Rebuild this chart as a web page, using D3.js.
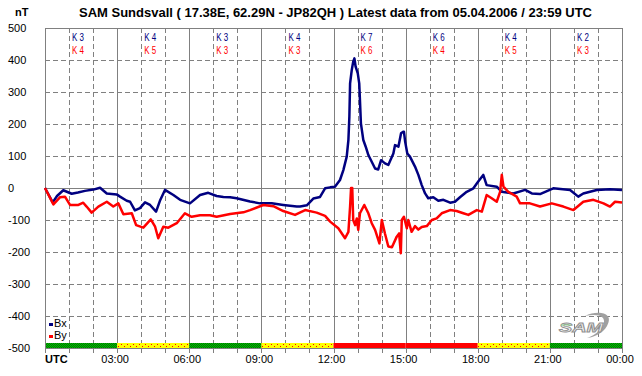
<!DOCTYPE html>
<html lang="en">
  <head>
    <meta charset="UTF-8" />
    <title>SAM Sundsvall</title>
    <script src="https://d3js.org/d3.v7.min.js"></script>
    <style>
      body { margin: 0; background: #fff; }
      svg { display: block; font-family: "Liberation Sans", Arial, sans-serif; }
    </style>
  </head>
  <body>
    <svg id="chart" width="642" height="376"></svg>

    <script>
      // Bx / By magnetometer traces as [hour, nT]
      const bxData = [
        [0, 0], [0.32, -45], [0.5, -25], [0.76, -7], [1.11, -18], [1.37, -14],
        [1.66, -9], [2.01, -5], [2.29, 1], [2.57, -17], [2.98, -20], [3.12, -27],
        [3.4, -40], [3.54, -43], [3.74, -70], [3.95, -63], [4.16, -45], [4.37, -53],
        [4.62, -74], [4.78, -40], [4.99, -6], [5.34, -22], [5.62, -37], [6.03, -48],
        [6.45, -22], [6.79, -15], [7.14, -25], [7.42, -28], [7.7, -29], [7.97, -32],
        [8.53, -42], [8.94, -48], [9.43, -48], [9.91, -53], [10.47, -58], [10.61, -58],
        [10.89, -54], [11.16, -33], [11.44, -28], [11.65, -1], [11.86, 2], [12.06, 4],
        [12.27, 25], [12.41, 56], [12.55, 98], [12.62, 150], [12.66, 223], [12.69, 327],
        [12.76, 369], [12.82, 395], [12.87, 405], [12.92, 379], [13.01, 358], [13.07, 327],
        [13.1, 275], [13.14, 202], [13.24, 150], [13.34, 129], [13.45, 103], [13.59, 82],
        [13.73, 61], [13.86, 58], [13.98, 87], [14.14, 77], [14.28, 72], [14.49, 108],
        [14.56, 134], [14.7, 129], [14.81, 171], [14.9, 176], [14.93, 176], [14.98, 145],
        [15.07, 108], [15.18, 98], [15.39, 67], [15.53, 41], [15.67, 9], [15.81, -17],
        [15.94, -32], [16.15, -29], [16.36, -40], [16.57, -37], [16.85, -46], [17.05, -43],
        [17.26, -29], [17.54, -12], [17.82, -1], [18.02, 20], [18.23, 41], [18.37, 9],
        [18.79, 4], [19.0, -12], [19.48, -17], [19.97, -6], [20.25, -17], [20.59, -19],
        [21.14, -1], [21.84, -6], [22.18, -27], [22.39, -17], [22.95, -6], [23.5, -4],
        [24, -6]
      ];

      const byData = [
        [0, 0], [0.35, -51], [0.62, -29], [0.83, -27], [1.04, -53], [1.39, -53],
        [1.59, -46], [1.73, -58], [1.94, -77], [2.22, -58], [2.57, -43], [2.84, -58],
        [3.05, -48], [3.26, -82], [3.61, -79], [3.79, -116], [4.09, -124], [4.4, -98],
        [4.58, -121], [4.71, -157], [4.92, -121], [5.13, -124], [5.48, -110], [5.82, -79],
        [6.1, -90], [6.45, -85], [6.86, -85], [7.14, -90], [7.7, -81], [8.25, -76],
        [8.53, -69], [9.08, -53], [9.5, -57], [9.91, -72], [10.4, -84], [10.82, -69],
        [11.3, -77], [11.65, -87], [11.86, -105], [12.2, -126], [12.48, -157], [12.62, -137],
        [12.69, -58], [12.73, 0], [12.78, 0], [12.82, -100], [12.9, -116], [12.97, -95],
        [13.03, -131], [13.1, -79], [13.28, -53], [13.45, -79], [13.59, -110], [13.73, -131],
        [13.91, -173], [14.01, -100], [14.14, -142], [14.28, -183], [14.43, -185], [14.63, -152],
        [14.73, -142], [14.8, -204], [14.84, -100], [14.93, -90], [15.05, -126], [15.11, -100],
        [15.25, -137], [15.39, -119], [15.53, -130], [15.67, -122], [15.88, -119], [16.09, -100],
        [16.29, -95], [16.5, -79], [16.85, -69], [17.12, -72], [17.4, -79], [17.61, -84],
        [17.96, -69], [18.17, -74], [18.37, -22], [18.58, -32], [18.79, -43], [18.93, -12],
        [19.0, 41], [19.07, 4], [19.27, -12], [19.62, -27], [19.76, -48], [20.17, -48],
        [20.59, -58], [21.08, -48], [21.56, -58], [21.98, -69], [22.39, -43], [22.81, -37],
        [23.23, -48], [23.5, -58], [23.71, -43], [24, -45]
      ];

      // K indices per 3-hour block
      const kBx = [3, 4, 3, 4, 7, 6, 4, 2];
      const kBy = [4, 5, 3, 3, 6, 4, 5, 3];
      const status = ["green", "yellow", "green", "yellow", "red", "red", "yellow", "green"];

      const yTicks = [500, 400, 300, 200, 100, 0, -100, -200, -300, -400, -500];
      const xTickLabels = ["03:00", "06:00", "09:00", "12:00", "15:00", "18:00", "21:00", "00:00"];

      const svg = d3.select("#chart");
      const plotL = 45, plotR = 622, plotT = 28, plotB = 348;

      const x = d3.scaleLinear().domain([0, 24]).range([plotL, plotR]);
      const y = d3.scaleLinear().domain([-500, 500]).range([plotB, plotT]);

      const grey = "#808080";

      // patterns for the status strip
      const defs = svg.append("defs");
      const pg = defs.append("pattern").attr("id", "pGreen")
        .attr("width", 2).attr("height", 2).attr("patternUnits", "userSpaceOnUse");
      pg.append("rect").attr("width", 2).attr("height", 2).attr("fill", "#00c000");
      pg.append("rect").attr("width", 1).attr("height", 1).attr("fill", "#007000");
      pg.append("rect").attr("x", 1).attr("y", 1).attr("width", 1).attr("height", 1).attr("fill", "#007000");
      const py = defs.append("pattern").attr("id", "pYellow")
        .attr("width", 6).attr("height", 4).attr("patternUnits", "userSpaceOnUse");
      py.append("rect").attr("width", 6).attr("height", 4).attr("fill", "#ffff00");
      py.append("rect").attr("x", 1).attr("y", 0).attr("width", 1).attr("height", 1).attr("fill", "#ff0000");
      py.append("rect").attr("x", 4).attr("y", 2).attr("width", 1).attr("height", 1).attr("fill", "#ff0000");
      const fills = { green: "url(#pGreen)", yellow: "url(#pYellow)", red: "#ff0000" };

      // horizontal grid
      svg.append("g").selectAll("line").data(yTicks).enter().append("line")
        .attr("x1", plotL).attr("x2", plotR)
        .attr("y1", (d) => y(d) + 0.5).attr("y2", (d) => y(d) + 0.5)
        .attr("stroke", grey).attr("stroke-width", 1)
        .attr("stroke-dasharray", (d) => (d === 0 || d === 500 ? null : "5,3"));

      // vertical grid (hourly dashed, 3-hourly solid)
      const hours = d3.range(1, 24);
      svg.append("g").selectAll("line").data(hours).enter().append("line")
        .attr("x1", (d) => Math.round(x(d)) + 0.5).attr("x2", (d) => Math.round(x(d)) + 0.5)
        .attr("y1", plotT).attr("y2", plotB)
        .attr("stroke", grey).attr("stroke-width", 1)
        .attr("stroke-dasharray", (d) => (d % 3 === 0 ? null : "5,3"));

      // status strip
      svg.append("g").selectAll("rect").data(status).enter().append("rect")
        .attr("x", (d, i) => x(i * 3)).attr("y", plotB - 5)
        .attr("width", x(3) - x(0)).attr("height", 5)
        .attr("fill", (d) => fills[d]);

      // frame + ticks
      svg.append("line").attr("x1", plotL + 0.5).attr("x2", plotL + 0.5)
        .attr("y1", plotT).attr("y2", plotB + 5).attr("stroke", grey);
      svg.append("line").attr("x1", plotR + 0.5).attr("x2", plotR + 0.5)
        .attr("y1", plotT).attr("y2", plotB + 5).attr("stroke", grey);
      svg.append("line").attr("x1", plotL).attr("x2", plotR + 1)
        .attr("y1", plotB + 0.5).attr("y2", plotB + 0.5).attr("stroke", grey);
      svg.append("g").selectAll("line").data(d3.range(0, 25)).enter().append("line")
        .attr("x1", (d) => Math.round(x(d)) + 0.5).attr("x2", (d) => Math.round(x(d)) + 0.5)
        .attr("y1", plotB).attr("y2", plotB + 5).attr("stroke", grey);

      // y labels
      svg.append("g").selectAll("text").data(yTicks).enter().append("text")
        .attr("x", 8).attr("y", (d) => y(d) + 4)
        .attr("font-size", 11).attr("fill", "#000")
        .text((d) => d);

      // x labels
      svg.append("g").selectAll("text").data(xTickLabels).enter().append("text")
        .attr("x", (d, i) => x((i + 1) * 3) - 2).attr("y", 363)
        .attr("text-anchor", "middle").attr("font-size", 11)
        .text((d) => d);

      svg.append("text").attr("x", plotL).attr("y", 363)
        .attr("font-size", 11).attr("font-weight", "bold").text("UTC");
      svg.append("text").attr("x", 15).attr("y", 16)
        .attr("font-size", 11).attr("font-weight", "bold").text("nT");

      svg.append("text").attr("x", (plotL + plotR) / 2 + 2).attr("y", 17)
        .attr("text-anchor", "middle").attr("font-size", 13).attr("font-weight", "bold")
        .text("SAM Sundsvall ( 17.38E, 62.29N - JP82QH ) Latest data from 05.04.2006 / 23:59 UTC");

      // K indices
      const kg = svg.append("g").attr("font-size", 11);
      kg.selectAll("text.kx").data(kBx).enter().append("text")
        .attr("x", (d, i) => x(i * 3 + 1) + 3).attr("y", 41)
        .attr("fill", "#000080").attr("textLength", 12).attr("lengthAdjust", "spacingAndGlyphs")
        .text((d) => "K " + d);
      kg.selectAll("text.ky").data(kBy).enter().append("text")
        .attr("x", (d, i) => x(i * 3 + 1) + 3).attr("y", 54)
        .attr("fill", "#ff0000").attr("textLength", 12).attr("lengthAdjust", "spacingAndGlyphs")
        .text((d) => "K " + d);

      // traces (By drawn on top)
      const trace = d3.line().x((d) => x(d[0])).y((d) => y(d[1]));
      svg.append("path").datum(bxData).attr("d", trace)
        .attr("fill", "none").attr("stroke", "#000080").attr("stroke-width", 2.5)
        .attr("stroke-linejoin", "round");
      svg.append("path").datum(byData).attr("d", trace)
        .attr("fill", "none").attr("stroke", "#ff0000").attr("stroke-width", 2.5)
        .attr("stroke-linejoin", "round");

      // legend
      const legend = [["Bx", "#000080"], ["By", "#ff0000"]];
      const lg = svg.append("g").selectAll("g").data(legend).enter().append("g")
        .attr("transform", (d, i) => `translate(48,${327 + i * 12})`);
      lg.append("rect").attr("x", 1).attr("y", -4).attr("width", 4).attr("height", 3)
        .attr("fill", (d) => d[1]);
      lg.append("text").attr("x", 6).attr("y", 0).attr("font-size", 11).text((d) => d[0]);

      // SAM logo
      const logo = svg.append("g").attr("transform", "translate(557,312)");
      logo.append("path")
        .attr("d", "M28,4 C40,-2 58,0 50,14 C46,22 34,26 30,26 C42,22 50,12 46,6 C42,2 34,3 28,4 Z")
        .attr("fill", "#a0a0a0");
      logo.append("text").attr("x", 2).attr("y", 20)
        .attr("font-size", 13).attr("font-style", "italic").attr("font-weight", "bold")
        .attr("fill", "#f0f0f0").attr("stroke", "#909090").attr("stroke-width", 0.8)
        .attr("textLength", 44).attr("lengthAdjust", "spacingAndGlyphs")
        .text("SAM");
      logo.append("path").attr("d", "M4,13 L14,13").attr("stroke", "#8fd08f").attr("stroke-width", 1);
    </script>
  </body>
</html>
